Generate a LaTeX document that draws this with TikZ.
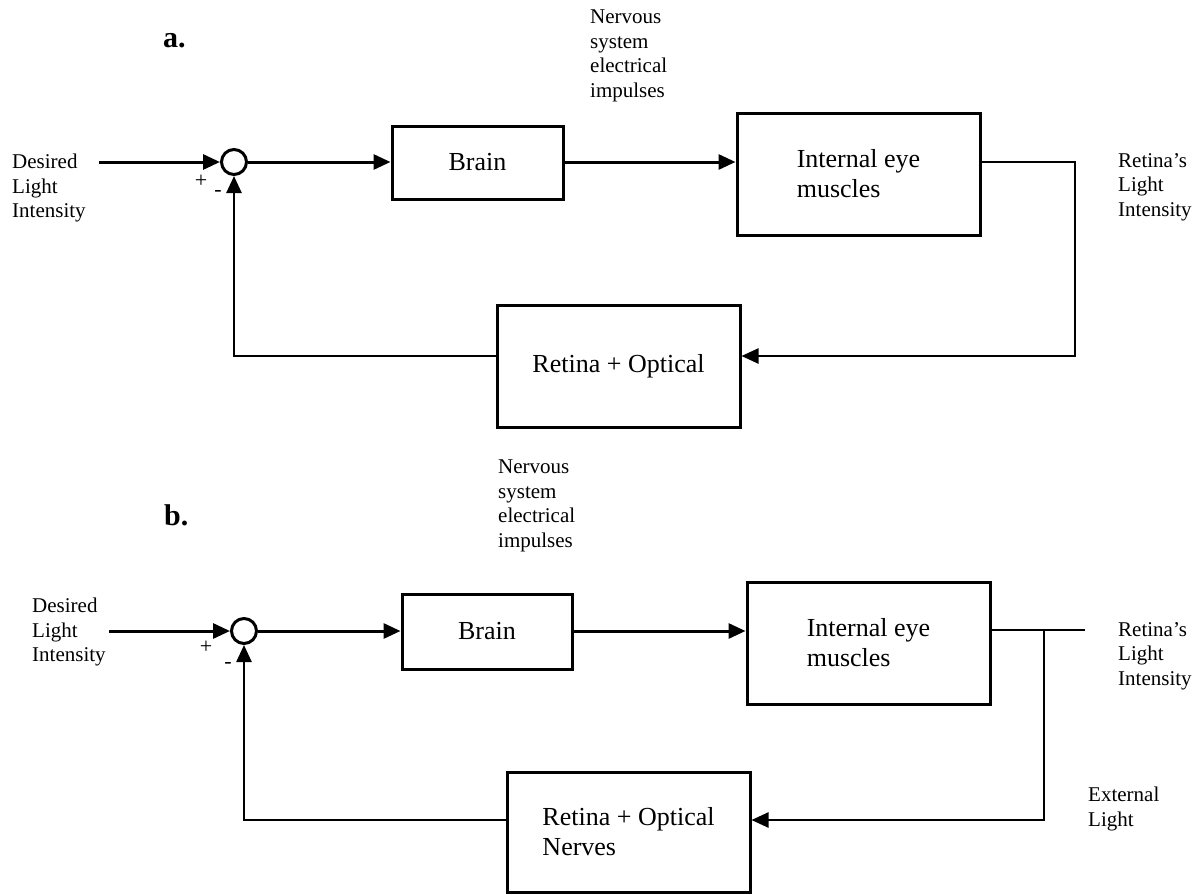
\documentclass[tikz,border=0pt]{standalone}
\usepackage{fontspec}
\setmainfont{Liberation Serif}
\usetikzlibrary{arrows.meta}
\tikzset{
    block/.style={draw, line width=3pt, inner sep=0pt, minimum width=243pt,
        minimum height=122pt, align=left, font=\fontsize{26}{30}\selectfont},
    summer/.style={draw, circle, line width=3pt, minimum size=25pt, inner sep=0pt},
    lbl/.style={anchor=north west, inner sep=0pt, align=left,
        font=\fontsize{21}{24.5}\selectfont},
    sgn/.style={inner sep=0pt, font=\fontsize{22}{22}\selectfont},
    title/.style={anchor=base west, inner sep=0pt, font={\fontsize{30}{30}\selectfont\bfseries}},
    sig/.style={line width=3pt, -{Triangle[length=17pt,width=15pt]}},
    wire/.style={line width=2.5pt}
}
\begin{document}
\begin{tikzpicture}[x=1pt, y=-1pt]
    \useasboundingbox (0,0) rectangle (1204,894);
    % Part a
    \node[title] (titleA) at (163,47) {a.};
    \node[summer] (sumA) at (234,162) {};
    \node[block, minimum width=171pt, minimum height=73pt] (brainA) at (477.5,162.5) {Brain};
    \node[block] (musclesA) at (858.5,174) {Internal eye\\muscles};
    \node[block] (retinaA) at (618.5,366) {Retina + Optical};
    \coordinate (inA) at (99,162);
    \coordinate (fbA) at (1075,356);
    \draw[sig] (inA) -- (sumA.west);
    \draw[sig] (sumA.east) -- (brainA.west |- sumA);
    \draw[sig] (brainA.east |- sumA) -- (musclesA.west |- sumA);
    \draw[sig, wire] (musclesA.east |- sumA) -| (fbA) -- (fbA -| retinaA.east);
    \draw[sig, wire] (retinaA.west |- fbA) -| (sumA.south);
    \node[lbl] (desiredA) at (12,154) {Desired\\Light\\Intensity};
    \node[lbl] (lightA) at (1118,153) {Retina’s\\Light\\Intensity};
    \node[lbl] (nerveA) at (590,10) {Nervous\\system\\electrical\\impulses};
    \node[sgn] (plusA) at (201,181) {+};
    \node[sgn] (minusA) at (218,193) {-};
    % Part b
    \node[title] (titleB) at (164,525) {b.};
    \node[summer] (sumB) at (244,631) {};
    \node[block, minimum width=170pt, minimum height=75pt] (brainB) at (487,631.5) {Brain};
    \node[block] (musclesB) at (868.5,643) {Internal eye\\muscles};
    \node[block, minimum height=120pt] (retinaB) at (628.5,832) {Retina + Optical\\Nerves};
    \coordinate (inB) at (109,631);
    \coordinate (tapB) at (1044,630);
    \coordinate (endB) at (1085,630);
    \coordinate (fbB) at (1044,820);
    \draw[sig] (inB) -- (sumB.west);
    \draw[sig] (sumB.east) -- (brainB.west |- sumB);
    \draw[sig] (brainB.east |- sumB) -- (musclesB.west |- sumB);
    \draw[wire] (musclesB.east |- tapB) -- (endB);
    \draw[sig, wire] (tapB) -- (fbB) -- (fbB -| retinaB.east);
    \draw[sig, wire] (retinaB.west |- fbB) -| (sumB.south);
    \node[lbl] (desiredB) at (32,598) {Desired\\Light\\Intensity};
    \node[lbl] (lightB) at (1118,622) {Retina’s\\Light\\Intensity};
    \node[lbl] (extB) at (1088,787) {External\\Light};
    \node[lbl] (nerveB) at (498,460) {Nervous\\system\\electrical\\impulses};
    \node[sgn] (plusB) at (206,647) {+};
    \node[sgn] (minusB) at (228,665) {-};
\end{tikzpicture}
\end{document}
